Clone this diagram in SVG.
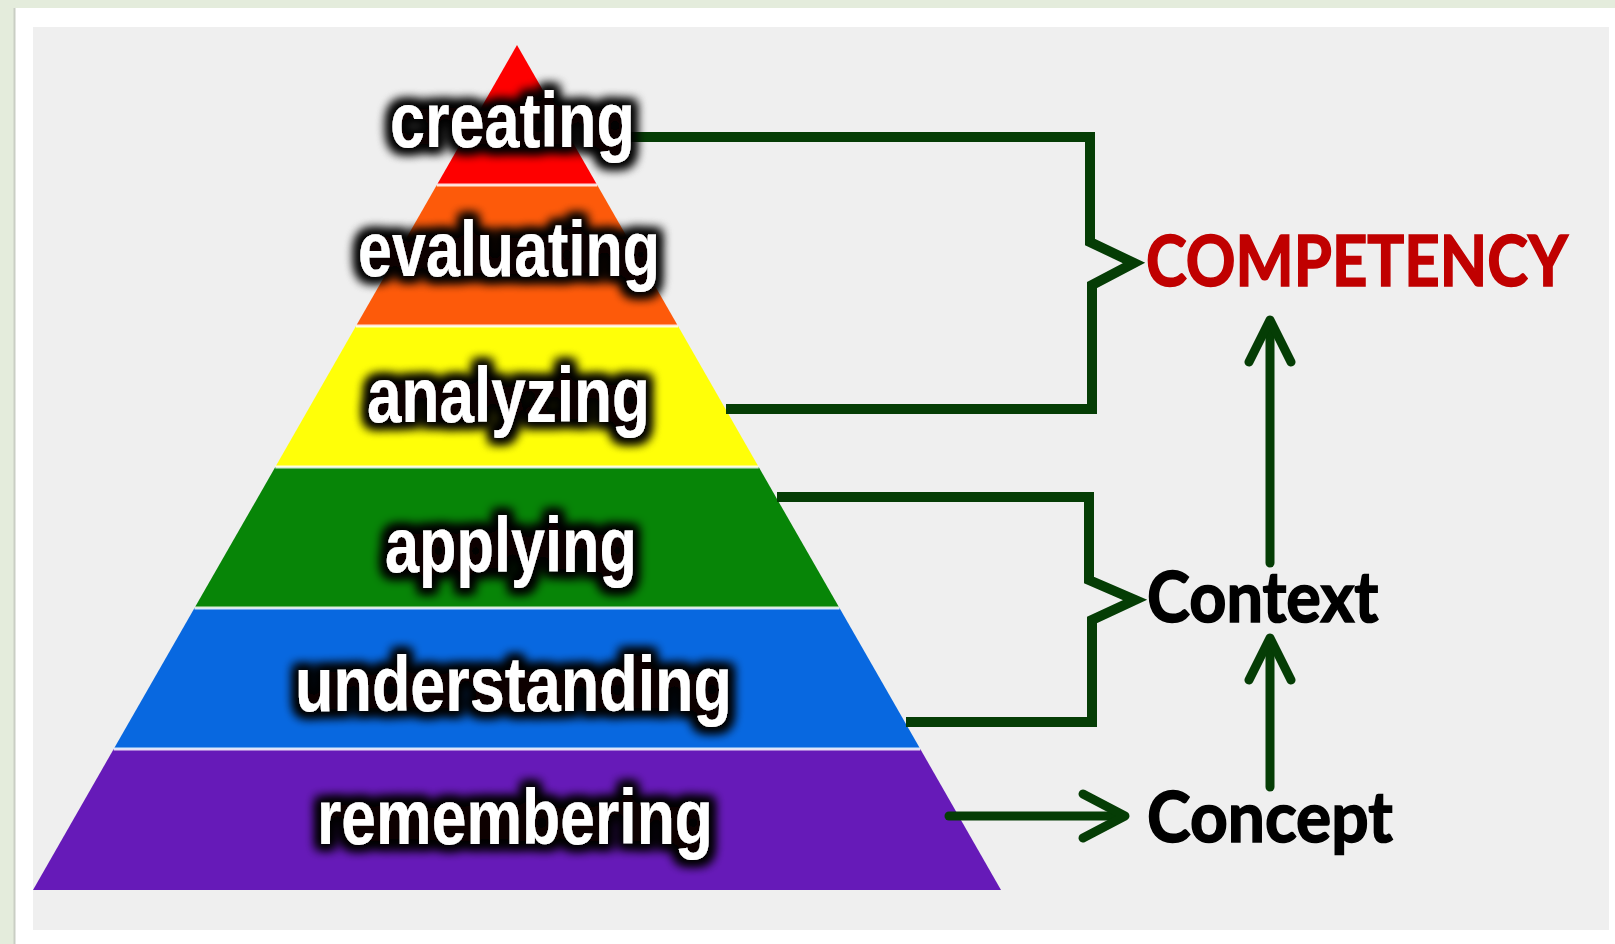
<svg xmlns="http://www.w3.org/2000/svg" width="1615" height="944" viewBox="0 0 1615 944">
<defs>
<style>
.lvl{font-family:"Liberation Sans",Arial,sans-serif;font-weight:bold;font-size:77px;fill:#ffffff;filter:url(#glow)}
.lab{font-family:Lato,"Open Sans",sans-serif;font-weight:bold;font-size:70px;stroke-width:1.6}
.con{fill:none;stroke:#053d05;stroke-width:10}
.arr{fill:none;stroke:#053d05;stroke-width:9;stroke-linecap:round;stroke-linejoin:round}
.sep{stroke:#ffffff;stroke-opacity:0.85;stroke-width:3}
</style>
<filter id="glow" x="-15%" y="-45%" width="130%" height="190%">
<feMorphology in="SourceAlpha" operator="dilate" radius="5" result="d"/>
<feGaussianBlur in="d" stdDeviation="5.5" result="b"/>
<feFlood flood-color="#070302" flood-opacity="1"/>
<feComposite in2="b" operator="in" result="s"/>
<feMerge><feMergeNode in="s"/><feMergeNode in="s"/><feMergeNode in="SourceGraphic"/></feMerge>
</filter>
</defs>
<rect x="0" y="0" width="1615" height="944" fill="#e4ecdc"/>
<rect x="14" y="8" width="1601" height="936" fill="#ffffff"/>
<line x1="14.5" y1="8" x2="14.5" y2="944" stroke="#c9cec4" stroke-width="2"/>
<rect x="33" y="27" width="1576" height="903" fill="#efefef"/>

<g id="pyramid">
<polygon points="517,45 597.2,185 436.8,185" fill="#fe0000"/>
<polygon points="436.8,185 597.2,185 678,326 356,326" fill="#fd5a0a"/>
<polygon points="356,326 678,326 758.7,467 275.3,467" fill="#ffff08"/>
<polygon points="275.3,467 758.7,467 839.5,608 194.5,608" fill="#078507"/>
<polygon points="194.5,608 839.5,608 920.3,749 113.7,749" fill="#0868e0"/>
<polygon points="113.7,749 920.3,749 1001,890 33,890" fill="#661ab8"/>
<line class="sep" x1="436.8" y1="185" x2="597.2" y2="185"/>
<line class="sep" x1="356" y1="326" x2="678" y2="326"/>
<line class="sep" x1="275.3" y1="467" x2="758.7" y2="467"/>
<line class="sep" x1="194.5" y1="608" x2="839.5" y2="608"/>
<line class="sep" x1="113.7" y1="749" x2="920.3" y2="749"/>
</g>

<g id="connectors">
<path class="con" d="M590 137 H1090 V242 L1134 263 L1092 285 V409 H726"/>
<path class="con" d="M777 497 H1089 V580 L1135 600 L1092 620 V722 H906"/>
<line class="arr" x1="949" y1="816" x2="1122" y2="816" stroke-linecap="butt"/>
<polyline class="arr" points="1083,794 1125,816 1083,838"/>
<line class="arr" x1="1270" y1="787" x2="1270" y2="640" stroke-linecap="butt"/>
<polyline class="arr" points="1249,680 1270,638 1291,680"/>
<line class="arr" x1="1270" y1="563" x2="1270" y2="322" stroke-linecap="butt"/>
<polyline class="arr" points="1249,362 1270,320 1291,362"/>
</g>

<g id="creating"><text class="lvl" x="390" y="147" textLength="245" lengthAdjust="spacingAndGlyphs">creating</text></g>
<g id="evaluating"><text class="lvl" x="358" y="276" textLength="302" lengthAdjust="spacingAndGlyphs">evaluating</text></g>
<g id="analyzing"><text class="lvl" x="367" y="422" textLength="283" lengthAdjust="spacingAndGlyphs">analyzing</text></g>
<g id="applying"><text class="lvl" x="385" y="572" textLength="252" lengthAdjust="spacingAndGlyphs">applying</text></g>
<g id="understanding"><text class="lvl" x="295" y="711" textLength="437" lengthAdjust="spacingAndGlyphs">understanding</text></g>
<g id="remembering"><text class="lvl" x="317" y="844" textLength="396" lengthAdjust="spacingAndGlyphs">remembering</text></g>

<g id="competency" transform="translate(1146,286) scale(0.89,1)"><text class="lab" x="0" y="0" fill="#c00000" stroke="#c00000" textLength="474" lengthAdjust="spacingAndGlyphs">COMPETENCY</text></g>
<g id="context" transform="translate(1147,622) scale(0.9,1)"><text class="lab" x="0" y="0" fill="#000000" stroke="#000000" textLength="257" lengthAdjust="spacingAndGlyphs">Context</text></g>
<g id="concept" transform="translate(1147,842) scale(0.9,1)"><text class="lab" x="0" y="0" fill="#000000" stroke="#000000" textLength="273" lengthAdjust="spacingAndGlyphs">Concept</text></g>
</svg>
